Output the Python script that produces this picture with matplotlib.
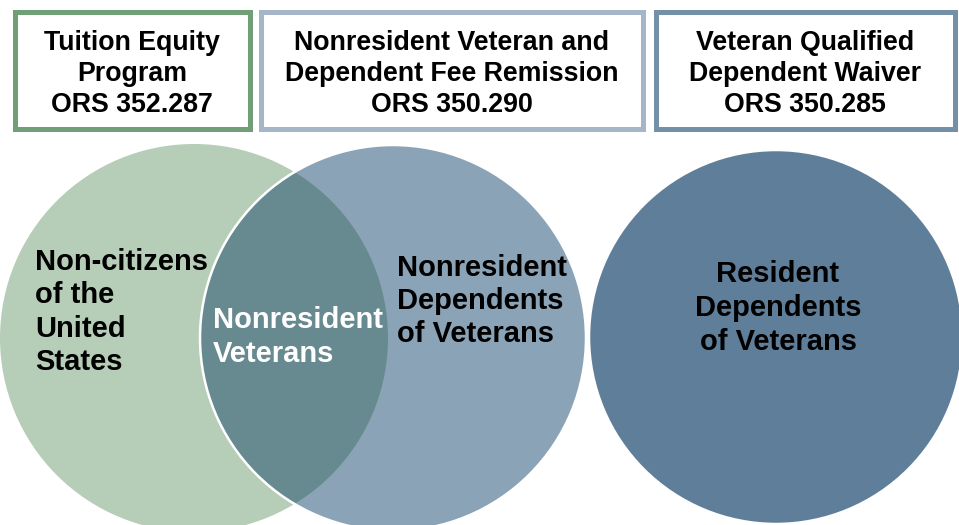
import matplotlib
matplotlib.use("Agg")
import matplotlib.pyplot as plt
from matplotlib.patches import Circle, Rectangle

plt.rcParams['font.family'] = ['Liberation Sans', 'DejaVu Sans']

# ---- content ----
box_titles = [
    "Tuition Equity\nProgram\nORS 352.287",
    "Nonresident Veteran and\nDependent Fee Remission\nORS 350.290",
    "Veteran Qualified\nDependent Waiver\nORS 350.285",
]
circle_labels = [
    "Non-citizens\nof the\nUnited\nStates",
    "Nonresident\nDependents\nof Veterans",
    "Resident\nDependents\nof Veterans",
]
overlap_label = "Nonresident\nVeterans"

# ---- styling / layout ----
box_edges = ["#6f9e77", "#a4b6c7", "#7390a9"]
box_x = [(12, 252), (258, 645), (653, 957)]
box_y = (9, 131)

circle_fill = ["#b6cdb8", "#8ba3b6", "#5f7e99"]
lens_color = "#678a91"
circle_geom = [(194, 338, 194), (393, 338, 193), (776, 337, 187)]

W, H = 959, 525
fig = plt.figure(figsize=(W / 100, H / 100), dpi=100)
ax = fig.add_axes([0, 0, 1, 1])
ax.set_xlim(0, W)
ax.set_ylim(H, 0)
ax.set_aspect('equal')
ax.axis('off')

# boxes
lw_box = 5 * 72 / 100
for (x0, x1), ec, title in zip(box_x, box_edges, box_titles):
    inset = 2.5
    r = Rectangle((x0 + inset, box_y[0] + inset), x1 - x0 - 2 * inset,
                  box_y[1] - box_y[0] - 2 * inset, facecolor='white',
                  edgecolor=ec, linewidth=lw_box, joinstyle='miter')
    ax.add_patch(r)
    ax.text((x0 + x1) / 2, 74, title,
            ha='center', va='center', fontsize=19.3, fontweight='bold',
            color='black', linespacing=1.25)

# circles
(gx, gy, gr), (mx, my, mr), (dx, dy, dr) = circle_geom
green = Circle((gx, gy), gr, facecolor=circle_fill[0], edgecolor='none')
ax.add_patch(green)
mid = Circle((mx, my), mr, facecolor=circle_fill[1], edgecolor='none')
ax.add_patch(mid)
lens = Circle((gx, gy), gr, facecolor=lens_color, edgecolor='none')
ax.add_patch(lens)
lens.set_clip_path(mid)
mid_edge = Circle((mx, my), mr, facecolor='none', edgecolor='white',
                  linewidth=2.5 * 72 / 100)
ax.add_patch(mid_edge)
dark = Circle((dx, dy), dr, facecolor=circle_fill[2], edgecolor='white',
              linewidth=2.5 * 72 / 100)
ax.add_patch(dark)

fs = 21
ls = 1.25
ax.text(35, 312, circle_labels[0], ha='left', va='center', fontsize=fs,
        fontweight='bold', color='black', linespacing=ls)
ax.text(213, 337, overlap_label, ha='left', va='center', fontsize=fs,
        fontweight='bold', color='white', linespacing=ls)
ax.text(397, 301, circle_labels[1], ha='left', va='center', fontsize=fs,
        fontweight='bold', color='black', linespacing=ls)
ax.text(778, 308, circle_labels[2], ha='center', va='center', fontsize=fs,
        fontweight='bold', color='black', linespacing=ls)

fig.savefig("out.png", dpi=100)
